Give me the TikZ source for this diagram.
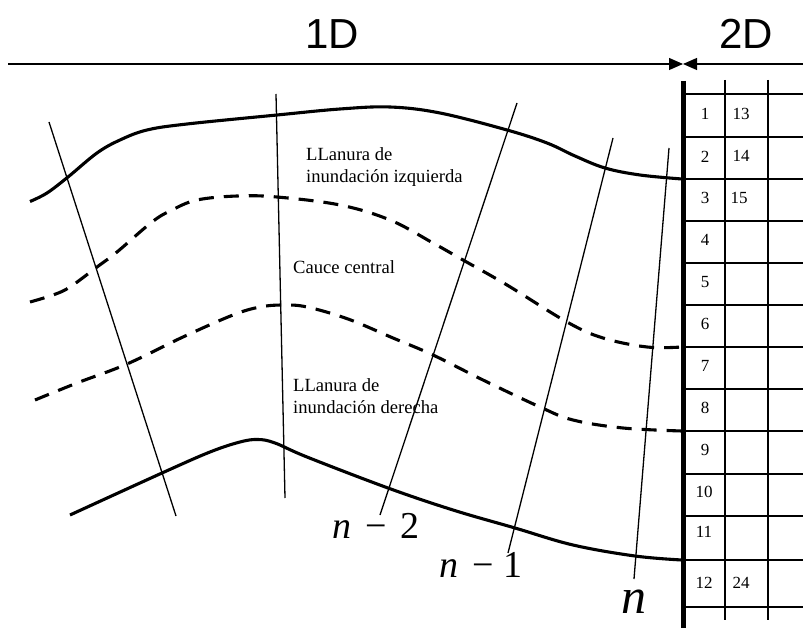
\documentclass[tikz,border=0pt]{standalone}
\usepackage{fontspec}
\setmainfont{Liberation Serif}
\newfontfamily\headfont{Liberation Sans}
\usetikzlibrary{arrows.meta}
\tikzset{
  thinline/.style={line width=1.3pt,black},
  gridline/.style={line width=1.3pt,black},
  bank/.style={line width=3.1pt,black,smooth,tension=0.6},
  dashedbank/.style={bank,dash pattern=on 15pt off 10pt},
  lab/.style={inner sep=0pt,font=\fontsize{18.6}{22}\selectfont,align=left,anchor=west},
  cell/.style={inner sep=0pt,font=\fontsize{17}{19}\selectfont},
  head/.style={inner sep=0pt,font=\headfont\fontsize{42}{46}\selectfont},
  idx/.style={inner sep=0pt,font=\fontsize{38}{40}\selectfont},
  tip/.style={-{Triangle[length=14pt,width=12pt]},line width=1.2pt}
}
\begin{document}
\begin{tikzpicture}[x=1pt,y=-1pt]
\useasboundingbox (0,0) rectangle (803,628);
\node[head] (h1) at (332,34) {1D};
\node[head] (h2) at (746,34) {2D};
\coordinate (w) at (683,64);
\coordinate (al) at (8,64);
\coordinate (ar) at (803,64);
\draw[tip] (al) -- (w);
\draw[tip] (ar) -- (w);
% grid
\foreach \y in {94,137,179,221,263,305,347,389,431,474,516,560,607}
  \draw[gridline] (683,\y) -- (803,\y);
\foreach \x in {725,768}
  \draw[gridline] (\x,80) -- (\x,620);
\draw[line width=5pt] (683,81) -- (683,628);
% cross sections
\draw[thinline] (49,122) -- (176,516);
\draw[thinline] (276,94) -- (285,498);
\draw[thinline] (517,103) -- (380,515);
\draw[thinline] (613,138) -- (508,553);
\draw[thinline] (669,148) -- (634,579);
% banks
\draw[bank] plot coordinates {(30,201.5) (47,193) (68,177) (97,153) (120,140) (147,130) (187,124) (277,115) (340,109) (390,107) (440,113) (507,130) (547,143) (575,156) (605,168) (640,175) (682,179)};
\draw[dashedbank] plot coordinates {(30,302) (53,295) (70,287) (97,267) (117,252) (152,222) (172,210) (197,200) (237,196) (277,197) (340,205) (390,220) (433,243) (463,260) (507,285) (567,322) (603,338) (647,347) (682,347)};
\draw[dashedbank] plot coordinates {(35,400) (77,383) (127,364) (183,337) (233,315) (260,307) (283,305) (307,307) (348,319) (393,338) (433,355) (483,380) (540,407) (573,420) (623,428) (682,431)};
\draw[bank] plot coordinates {(70,515) (162,473) (210,452) (240,442) (258,439.5) (275,443) (307,457) (388,488) (453,510) (515,528) (573,545) (635,556) (682,560)};
% labels
\node[lab] (l1) at (306,167) {LLanura de\\inundación izquierda};
\node[lab] (l2) at (293,267) {Cauce central};
\node[lab] (l3) at (293,396) {LLanura de\\inundación derecha};
% cell numbers
\node[cell] (c1) at (705,114) {1};
\node[cell] (c2) at (705,157) {2};
\node[cell] (c3) at (705,198) {3};
\node[cell] (c4) at (705,240) {4};
\node[cell] (c5) at (705,282) {5};
\node[cell] (c6) at (705,324) {6};
\node[cell] (c7) at (705,366) {7};
\node[cell] (c8) at (705,408) {8};
\node[cell] (c9) at (705,450) {9};
\node[cell] (c10) at (704,492) {10};
\node[cell] (c11) at (704,532) {11};
\node[cell] (c12) at (704,583) {12};
\node[cell] (c13) at (741,114) {13};
\node[cell] (c14) at (741,156) {14};
\node[cell] (c15) at (739,198) {15};
\node[cell] (c24) at (741,583) {24};
% indices
\node[idx,anchor=base west] (n2) at (332,538) {\textit{n}\hspace{14pt}−\hspace{14pt}2};
\node[idx,anchor=base west] (n1) at (439,577) {\textit{n}\hspace{14pt}−\hspace{10pt}1};
\node[inner sep=0pt,font=\fontsize{50}{54}\selectfont,anchor=base west] (n0) at (621,613) {\textit{n}};
\end{tikzpicture}
\end{document}
